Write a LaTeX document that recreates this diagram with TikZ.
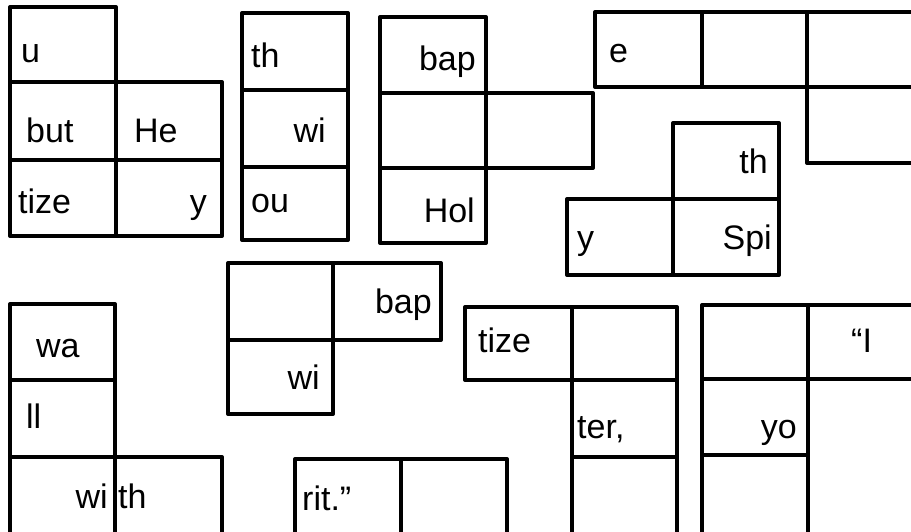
\documentclass[tikz,border=0pt]{standalone}
\usepackage{fontspec}
\setmainfont{Liberation Sans}
\begin{document}
\begin{tikzpicture}[x=1pt,y=-1pt,
  cellbox/.style={draw=black, line width=4pt, line join=round},
  lbl/.style={inner sep=0pt, font=\fontsize{34}{40}\selectfont},
  lw/.style={lbl, anchor=base west},
  le/.style={lbl, anchor=base east}]
\useasboundingbox (0,0) rectangle (911,531);
\clip (0,0) rectangle (911,531);
% piece A
\draw[cellbox] (10,7) rectangle (116,82);
\draw[cellbox] (10,82) rectangle (116,160);
\draw[cellbox] (116,82) rectangle (222,160);
\draw[cellbox] (10,160) rectangle (116,236);
\draw[cellbox] (116,160) rectangle (222,236);
\node[lw] (a1) at (21,62) {u};
\node[lw] (a2) at (26,142) {but};
\node[lw] (a3) at (134,142) {He};
\node[lw] (a4) at (18,213) {tize};
\node[le] (a5) at (207,213) {y};
% piece B
\draw[cellbox] (242,13) rectangle (348,90);
\draw[cellbox] (242,90) rectangle (348,167);
\draw[cellbox] (242,167) rectangle (348,240);
\node[lw] (b1) at (251,67) {th};
\node[le] (b2) at (326,142) {wi};
\node[lw] (b3) at (251,212) {ou};
% piece C
\draw[cellbox] (380,17) rectangle (486,93);
\draw[cellbox] (380,93) rectangle (486,168);
\draw[cellbox] (486,93) rectangle (593,168);
\draw[cellbox] (380,168) rectangle (486,243);
\node[le] (c1) at (476,70) {bap};
\node[le] (c2) at (475,222) {Hol};
% piece D
\draw[cellbox] (595,12) rectangle (702,87);
\draw[cellbox] (702,12) rectangle (807,87);
\draw[cellbox] (807,12) rectangle (914,87);
\draw[cellbox] (807,87) rectangle (914,163);
\node[lw] (d1) at (609,62) {e};
% piece E
\draw[cellbox] (673,123) rectangle (779,199);
\draw[cellbox] (567,199) rectangle (673,275);
\draw[cellbox] (673,199) rectangle (779,275);
\node[le] (e1) at (768,173) {th};
\node[lw] (e2) at (577,249) {y};
\node[le] (e3) at (772,249) {Spi};
% piece F
\draw[cellbox] (10,304) rectangle (115,380);
\draw[cellbox] (10,380) rectangle (115,457);
\draw[cellbox] (10,457) rectangle (115,534);
\draw[cellbox] (115,457) rectangle (222,534);
\node[lw] (f1) at (36,357) {wa};
\node[lw] (f2) at (26,428) {ll};
\node[le] (f3) at (108,508) {wi};
\node[lw] (f4) at (118,508) {th};
% piece G
\draw[cellbox] (228,263) rectangle (333,340);
\draw[cellbox] (333,263) rectangle (441,340);
\draw[cellbox] (228,340) rectangle (333,414);
\node[le] (g1) at (432,313) {bap};
\node[le] (g2) at (320,389) {wi};
% piece H
\draw[cellbox] (295,459) rectangle (401,535);
\draw[cellbox] (401,459) rectangle (507,535);
\node[lw] (h1) at (302,510) {rit.”};
% piece I
\draw[cellbox] (465,307) rectangle (572,380);
\draw[cellbox] (572,307) rectangle (677,380);
\draw[cellbox] (572,380) rectangle (677,457);
\draw[cellbox] (572,457) rectangle (677,534);
\node[lw] (i1) at (478,352) {tize};
\node[lw] (i2) at (577,438) {ter,};
% piece J
\draw[cellbox] (702,305) rectangle (808,379);
\draw[cellbox] (808,305) rectangle (914,379);
\draw[cellbox] (702,379) rectangle (808,455);
\draw[cellbox] (702,455) rectangle (808,534);
\node[lw] (j1) at (851,352) {“I};
\node[le] (j2) at (797,438) {yo};
\end{tikzpicture}
\end{document}
